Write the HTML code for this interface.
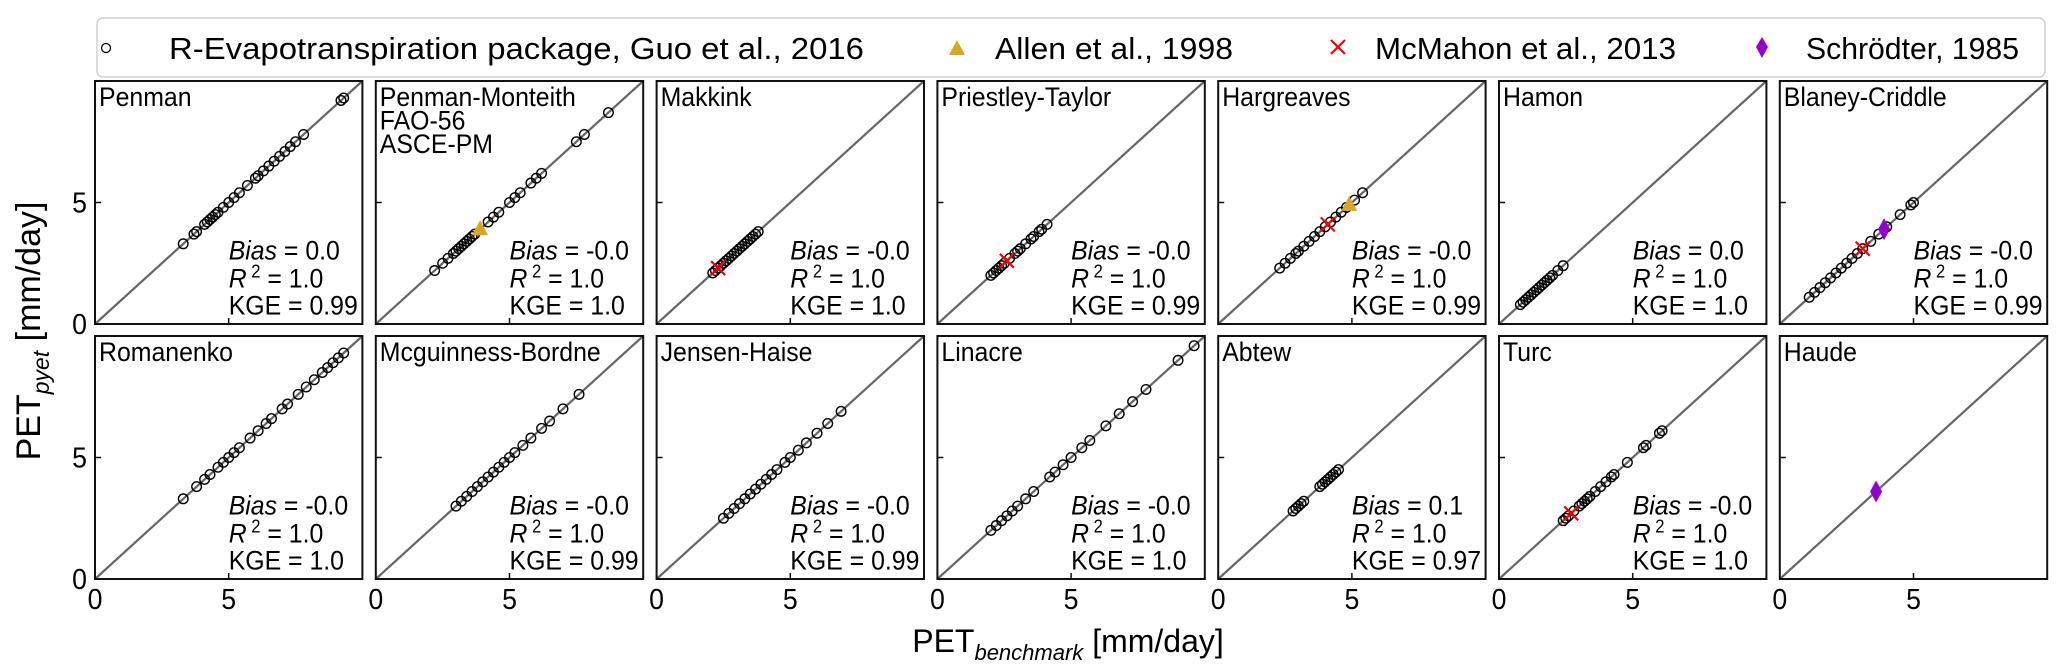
<!DOCTYPE html>
<html><head><meta charset="utf-8"><style>
html,body{margin:0;padding:0;background:#fff;}
svg{display:block;font-family:"Liberation Sans",sans-serif;}
</style></head><body>
<svg id="chart" width="2067" height="672" viewBox="0 0 2067 672" xmlns="http://www.w3.org/2000/svg">
<g id="legend">
  <rect x="97" y="18" width="1948" height="59" rx="6" fill="#fff" stroke="#d0d0d0" stroke-width="1.5"/>
  <circle cx="106" cy="48" r="4.5" fill="none" stroke="#000" stroke-width="1.3"/>
  <text class="sq" x="169" y="59" font-size="31">R-Evapotranspiration package, Guo et al., 2016</text>
  <polygon points="957,40 965,55 949,55" fill="#DAA520"/>
  <text class="sq" x="995" y="59" font-size="31">Allen et al., 1998</text>
  <g stroke="red" stroke-width="2.2"><line x1="1331" y1="40" x2="1345" y2="54"/><line x1="1345" y1="40" x2="1331" y2="54"/></g>
  <text class="sq" x="1375" y="59" font-size="31">McMahon et al., 2013</text>
  <polygon points="1762,37 1768,47 1762,58 1756,47" fill="#9400D3"/>
  <text class="sq" x="1806" y="59" font-size="31">Schrödter, 1985</text>
</g>
<g id="panels"></g>
<text transform="translate(40,331) rotate(-90)" text-anchor="middle" font-size="34">PET<tspan font-size="23" dy="9" font-style="italic">pyet</tspan><tspan dy="-9"> [mm/day]</tspan></text>
<text x="1068" y="652" text-anchor="middle" font-size="32">PET<tspan font-size="22" dy="8" font-style="italic">benchmark</tspan><tspan dy="-8"> [mm/day]</tspan></text>
</svg>
<script>
const methods = ["Penman","Penman-Monteith|FAO-56|ASCE-PM","Makkink","Priestley-Taylor","Hargreaves","Hamon","Blaney-Criddle","Romanenko","Mcguinness-Bordne","Jensen-Haise","Linacre","Abtew","Turc","Haude"];
const benchValues = [
 [3.3,3.7,3.8,4.1,4.2,4.3,4.4,4.5,4.6,4.8,5.0,5.2,5.4,5.7,6.0,6.1,6.3,6.5,6.7,6.9,7.1,7.3,7.5,7.8,9.2,9.3],
 [2.2,2.5,2.7,2.9,3.0,3.1,3.2,3.3,3.4,3.5,3.6,3.7,4.2,4.4,4.6,5.0,5.2,5.4,5.8,6.0,6.2,7.5,7.8,8.7],
 [2.1,2.2,2.3,2.4,2.5,2.6,2.7,2.8,2.9,3.0,3.1,3.2,3.3,3.4,3.5,3.6,3.7,3.8],
 [2.0,2.1,2.2,2.3,2.4,2.5,2.7,2.9,3.0,3.1,3.3,3.5,3.6,3.8,3.9,4.1],
 [2.3,2.5,2.7,2.9,3.0,3.2,3.4,3.6,3.8,4.0,4.2,4.4,4.6,4.8,5.1,5.4],
 [0.8,0.9,1.0,1.1,1.2,1.3,1.4,1.5,1.6,1.7,1.8,1.9,2.0,2.2,2.4],
 [1.1,1.3,1.5,1.7,1.9,2.1,2.3,2.5,2.7,2.9,3.1,3.4,3.7,4.0,4.5,4.9,5.0],
 [3.3,3.8,4.1,4.3,4.6,4.8,5.0,5.2,5.4,5.8,6.1,6.4,6.6,7.0,7.2,7.6,7.9,8.2,8.5,8.7,8.9,9.1,9.3],
 [3.0,3.2,3.4,3.6,3.8,4.0,4.2,4.4,4.6,4.8,5.0,5.2,5.5,5.8,6.2,6.5,7.0,7.6],
 [2.5,2.7,2.9,3.1,3.3,3.5,3.7,3.9,4.1,4.3,4.5,4.8,5.0,5.3,5.6,6.0,6.4,6.9],
 [2.0,2.2,2.4,2.6,2.8,3.0,3.3,3.6,4.2,4.4,4.7,5.0,5.4,5.7,6.3,6.8,7.3,7.8,9.0,9.6],
 [2.8,2.9,3.0,3.1,3.2,3.8,3.9,4.0,4.1,4.2,4.3,4.4,4.5],
 [2.4,2.5,2.6,2.8,3.0,3.1,3.2,3.3,3.4,3.6,3.8,4.0,4.2,4.3,4.8,5.4,5.5,6.0,6.1],
 []
];
const allenValues = [null,3.9,null,null,4.9,null,null,null,null,null,null,null,null,null];
const mcmahonValues = [null,null,2.3,2.6,4.1,null,3.1,null,null,null,null,null,2.7,null];
const schrodterValues = [null,null,null,null,null,null,3.9,null,null,null,null,null,null,3.6];
const biasLabels = ["0.0","-0.0","-0.0","-0.0","-0.0","0.0","-0.0","-0.0","-0.0","-0.0","-0.0","0.1","-0.0",null];
const r2Labels = ["1.0","1.0","1.0","1.0","1.0","1.0","1.0","1.0","1.0","1.0","1.0","1.0","1.0",null];
const kgeLabels = ["0.99","1.0","1.0","0.99","0.99","1.0","0.99","1.0","0.99","0.99","1.0","0.97","1.0",null];
const tickValues = [0,5];
const tickLabels = ["0","5"];

const NS="http://www.w3.org/2000/svg";
const L0=95, PW=267.4, GAP=13.4, TOPS=[81,336], PH=243, AXMAX=10;
function mk(tag,attrs,parent){const e=document.createElementNS(NS,tag);for(const k in attrs)e.setAttribute(k,attrs[k]);parent.appendChild(e);return e;}
const root=document.getElementById('panels');
methods.forEach((m,i)=>{
  const col=i%7,row=Math.floor(i/7);
  const x0=L0+col*(PW+GAP), y0=TOPS[row];
  const sx=v=>x0+v/AXMAX*PW, sy=v=>y0+PH-v/AXMAX*PH;
  const g=mk('g',{},root);
  
  
  const ln=mk('line',{x1:sx(0),y1:sy(0),x2:sx(AXMAX),y2:sy(AXMAX),stroke:'#666','stroke-width':2.2},g);
  
  
  benchValues[i].forEach(v=>{
    const c=mk('circle',{cx:sx(v),cy:sy(v),r:4.8,fill:'none',stroke:'#000','stroke-width':1.4},g);
    
    
  });
  if(mcmahonValues[i]!=null){const v=mcmahonValues[i],cx=sx(v),cy=sy(v);
    const p=mk('path',{d:`M${cx-7},${cy-7}L${cx+7},${cy+7}M${cx+7},${cy-7}L${cx-7},${cy+7}`,stroke:'red','stroke-width':2.2},g);
    
    }
  if(allenValues[i]!=null){const v=allenValues[i],cx=sx(v),cy=sy(v);
    const p=mk('polygon',{points:`${cx},${cy-9} ${cx+8},${cy+6} ${cx-8},${cy+6}`,fill:'#DAA520'},g);
    
    }
  if(schrodterValues[i]!=null){const v=schrodterValues[i],cx=sx(v),cy=sy(v);
    const p=mk('polygon',{points:`${cx},${cy-11} ${cx+6},${cy} ${cx},${cy+11} ${cx-6},${cy}`,fill:'#9400D3'},g);
    
    }
  const fr=mk('rect',{x:x0,y:y0,width:PW,height:PH,fill:'none',stroke:'#111','stroke-width':2},g);
  
  
  tickValues.forEach((t,k)=>{
    mk('line',{x1:sx(t),y1:y0+PH,x2:sx(t),y2:y0+PH-6,stroke:'#111','stroke-width':1.5},g);
    mk('line',{x1:x0,y1:sy(t),x2:x0+6,y2:sy(t),stroke:'#111','stroke-width':1.5},g);
    if(col===0){const tl=mk('text',{x:x0-8,y:sy(t)+10,'text-anchor':'end','font-size':29,class:'sq'},g);tl.textContent=tickLabels[k];
      
      }
    if(row===1){const tl=mk('text',{x:sx(t),y:y0+PH+30,'text-anchor':'middle','font-size':29,class:'sq'},g);tl.textContent=tickLabels[k];
      
      }
  });
  m.split('|').forEach((s,k)=>{
    const t=mk('text',{x:x0+4,y:y0+25+k*23.5,'font-size':27,class:'sq'},g);t.textContent=s;
    
    
  });
  if(biasLabels[i]!=null){
    const tx=x0+0.5*PW;
    const t1=mk('text',{x:tx,y:y0+0.735*PH,'font-size':27,class:'sq'},g);
    t1.innerHTML='<tspan font-style="italic">Bias</tspan> = '+biasLabels[i];
    
    
    const t2=mk('text',{x:tx,y:y0+0.85*PH,'font-size':27,class:'sq'},g);
    t2.innerHTML='<tspan font-style="italic">R</tspan><tspan font-size="18" dy="-10"> 2</tspan><tspan dy="10"> = '+r2Labels[i]+'</tspan>';
    
    
    const t3=mk('text',{x:tx,y:y0+0.96*PH,'font-size':27,class:'sq'},g);
    t3.textContent='KGE = '+kgeLabels[i];
    
    
  }
});
document.querySelectorAll('text.sq').forEach(t=>{
  const n=t.getComputedTextLength();
  const target={"R-Evapotranspiration package, Guo et al., 2016":695,"Allen et al., 1998":238,"McMahon et al., 2013":301,"Schrödter, 1985":213}[t.textContent];
  t.setAttribute('textLength',target?target:n*0.92);
  t.setAttribute('lengthAdjust','spacingAndGlyphs');
});
</script>
</body></html>
